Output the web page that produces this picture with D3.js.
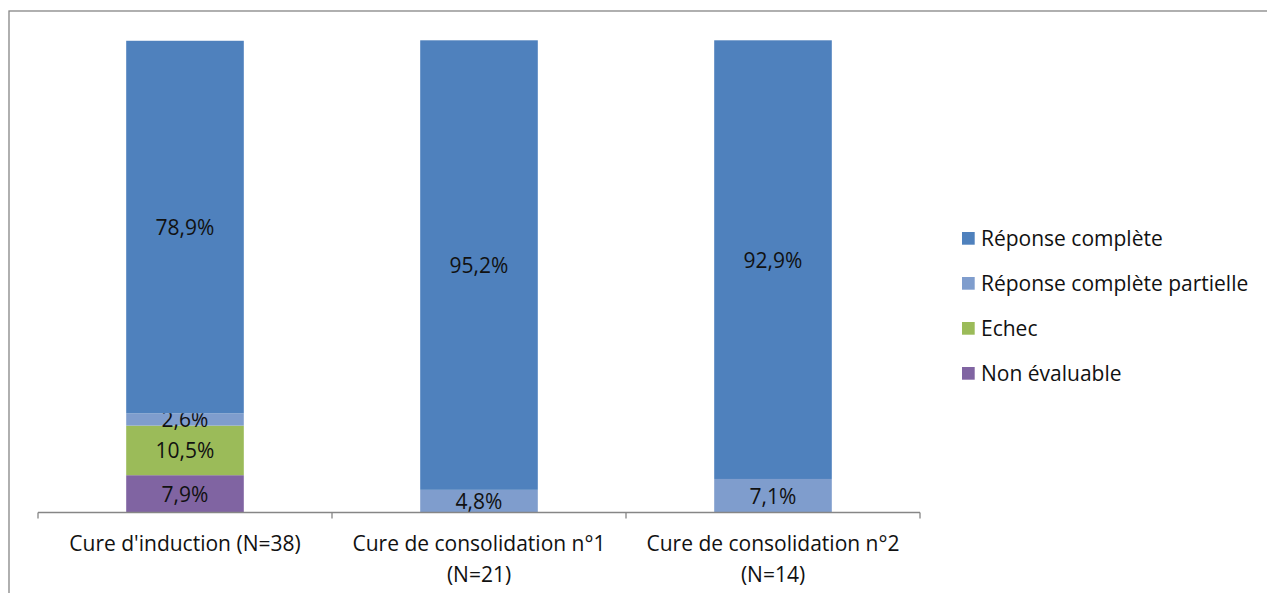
<!DOCTYPE html>
<html><head><meta charset="utf-8">
<script src="https://cdn.jsdelivr.net/npm/d3@7"></script>
<style>body{margin:0;background:#fff}svg{display:block;font-family:"Open Sans",Lato,sans-serif}</style>
</head><body><svg id="c" width="1267" height="593"></svg>
<script>
const categories = [["Cure d'induction (N=38)"], ["Cure de consolidation n°1", "(N=21)"], ["Cure de consolidation n°2", "(N=14)"]];
const seriesNames = ["Non évaluable", "Echec", "Réponse complète partielle", "Réponse complète"];
const nonEvaluable = [7.9, 0, 0];
const echec = [10.5, 0, 0];
const partielle = [2.6, 4.8, 7.1];
const complete = [78.9, 95.2, 92.9];
const colors = ["#8064A2", "#9BBB59", "#7F9DCD", "#4F81BD"];
const legendOrder = ["Réponse complète", "Réponse complète partielle", "Echec", "Non évaluable"];
const FS = 21;

const svg = d3.select("#c");
svg.append("rect").attr("x", 9).attr("y", 11).attr("width", 1300).attr("height", 700)
  .attr("fill", "none").attr("stroke", "#868686").attr("stroke-width", 1.3);

const series = [nonEvaluable, echec, partielle, complete];
const rows = categories.map((c, i) => {
  const r = {i};
  seriesNames.forEach((s, k) => r[s] = series[k][i]);
  return r;
});
const stack = d3.stack().keys(seriesNames)(rows);

const x = d3.scaleBand().domain([0, 1, 2]).range([38, 920]).paddingInner(0).paddingOuter(0);
const y = d3.scaleLinear().domain([0, 100]).range([512.5, 40.3]);
const bw = x.bandwidth() * 0.4;

stack.forEach((layer, k) => {
  const g = svg.append("g");
  layer.forEach((d, i) => {
    if (d[1] - d[0] <= 0) return;
    const x0 = x(i) + (x.bandwidth() - bw) / 2;
    g.append("rect").attr("x", x0).attr("width", bw)
      .attr("y", y(d[1])).attr("height", y(d[0]) - y(d[1])).attr("fill", colors[k]);
    g.append("text").attr("x", x0 + bw / 2).attr("y", (y(d[0]) + y(d[1])) / 2 + 8)
      .attr("text-anchor", "middle").attr("font-size", FS).attr("fill", "#111")
      .text(d3.format(".1f")(d[1] - d[0]).replace(".", ",") + "%");
  });
});

const ax = svg.append("g").attr("transform", "translate(0,512.5)");
ax.append("line").attr("x1", 38).attr("x2", 920).attr("stroke", "#868686").attr("stroke-width", 1.3);
[0, 1, 2, 3].forEach(i => {
  const xx = i < 3 ? x(i) : x(2) + x.bandwidth();
  ax.append("line").attr("x1", xx).attr("x2", xx).attr("y1", 0).attr("y2", 6).attr("stroke", "#868686").attr("stroke-width", 1.3);
});
categories.forEach((lines, i) => {
  lines.forEach((l, j) => {
    svg.append("text").attr("x", x(i) + x.bandwidth() / 2).attr("y", 551 + j * 30.5)
      .attr("text-anchor", "middle").attr("font-size", FS).attr("fill", "#111").text(l);
  });
});

legendOrder.forEach((name, j) => {
  const k = seriesNames.indexOf(name);
  const yy = 232 + j * 45;
  svg.append("rect").attr("x", 962).attr("y", yy).attr("width", 12.7).attr("height", 12.7).attr("fill", colors[k]);
  svg.append("text").attr("x", 981).attr("y", yy + 14).attr("font-size", FS).attr("fill", "#111").text(name);
});
</script></body></html>
